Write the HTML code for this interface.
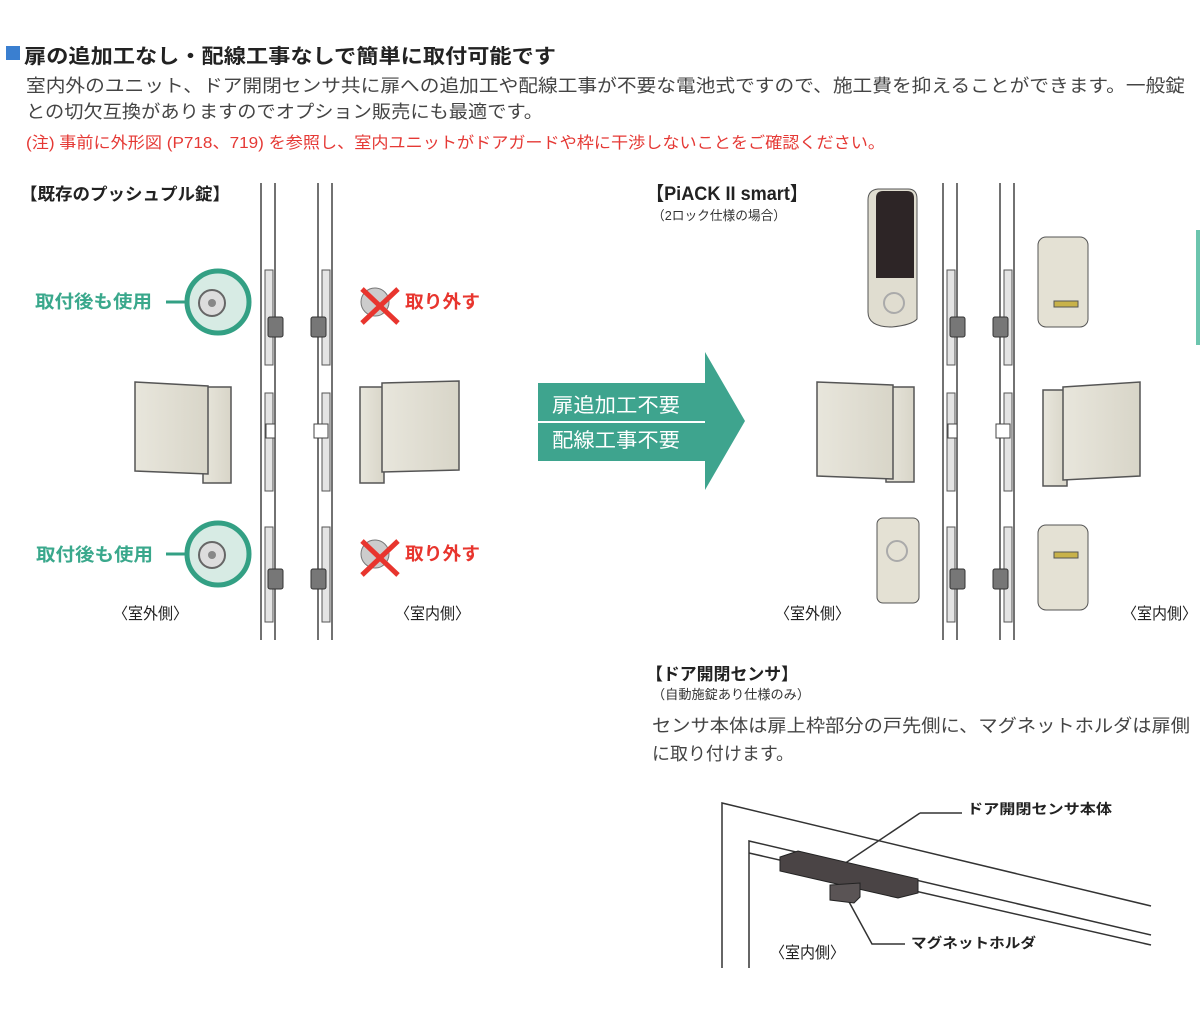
<!DOCTYPE html>
<html><head><meta charset="utf-8"><style>
body{margin:0;background:#fff;width:1200px;height:1013px;overflow:hidden;font-family:"Liberation Sans","Noto Sans CJK JP",sans-serif}
svg{position:absolute;left:0;top:0}
text{font-family:"Liberation Sans","Noto Sans CJK JP",sans-serif}
</style></head><body>
<svg width="1200" height="1013" viewBox="0 0 1200 1013">
<defs>
<linearGradient id="hg" x1="0" x2="1"><stop offset="0" stop-color="#e8e6dc"/><stop offset="1" stop-color="#d8d5c8"/></linearGradient>
</defs>
<rect x="6" y="46" width="14" height="14" fill="#3a7fd0"/>
<text x="24" y="63" font-size="20" fill="#222" font-weight="bold" textLength="532" lengthAdjust="spacingAndGlyphs">扉の追加工なし・配線工事なしで簡単に取付可能です</text>
<text x="26" y="92" font-size="18" fill="#444" textLength="1159" lengthAdjust="spacingAndGlyphs">室内外のユニット、ドア開閉センサ共に扉への追加工や配線工事が不要な電池式ですので、施工費を抑えることができます。一般錠</text>
<text x="26" y="118" font-size="18" fill="#444" textLength="517" lengthAdjust="spacingAndGlyphs">との切欠互換がありますのでオプション販売にも最適です。</text>
<text x="26" y="148" font-size="16" fill="#e53935" textLength="859" lengthAdjust="spacingAndGlyphs">(注) 事前に外形図 (P718、719) を参照し、室内ユニットがドアガードや枠に干渉しないことをご確認ください。</text>

<text x="20" y="200" font-size="17" fill="#222" font-weight="bold" textLength="210" lengthAdjust="spacingAndGlyphs">【既存のプッシュプル錠】</text>
<text x="646" y="200" font-size="19" fill="#222" font-weight="bold" textLength="162" lengthAdjust="spacingAndGlyphs">【PiACK II smart】</text>
<text x="652" y="220" font-size="13" fill="#333" textLength="134" lengthAdjust="spacingAndGlyphs">（2ロック仕様の場合）</text>

<g stroke="#444" stroke-width="1.5" fill="none">
<line x1="261" y1="183" x2="261" y2="640"/><line x1="275" y1="183" x2="275" y2="640"/>
<line x1="318" y1="183" x2="318" y2="640"/><line x1="332" y1="183" x2="332" y2="640"/>
<line x1="943" y1="183" x2="943" y2="640"/><line x1="957" y1="183" x2="957" y2="640"/>
<line x1="1000" y1="183" x2="1000" y2="640"/><line x1="1014" y1="183" x2="1014" y2="640"/>
</g>
<g fill="#e4e4e4" stroke="#555">
<rect x="265" y="270" width="8" height="95"/><rect x="322" y="270" width="8" height="95"/>
<rect x="265" y="393" width="8" height="98"/><rect x="322" y="393" width="8" height="98"/>
<rect x="265" y="527" width="8" height="95"/><rect x="322" y="527" width="8" height="95"/>
<rect x="947" y="270" width="8" height="95"/><rect x="1004" y="270" width="8" height="95"/>
<rect x="947" y="393" width="8" height="98"/><rect x="1004" y="393" width="8" height="98"/>
<rect x="947" y="527" width="8" height="95"/><rect x="1004" y="527" width="8" height="95"/>
</g>
<g fill="#777" stroke="#333">
<rect x="268" y="317" width="15" height="20" rx="2"/><rect x="311" y="317" width="15" height="20" rx="2"/>
<rect x="268" y="569" width="15" height="20" rx="2"/><rect x="311" y="569" width="15" height="20" rx="2"/>
<rect x="950" y="317" width="15" height="20" rx="2"/><rect x="993" y="317" width="15" height="20" rx="2"/>
<rect x="950" y="569" width="15" height="20" rx="2"/><rect x="993" y="569" width="15" height="20" rx="2"/>
</g>
<g fill="#fff" stroke="#444"><rect x="266" y="424" width="9" height="14"/><rect x="314" y="424" width="14" height="14"/><rect x="948" y="424" width="9" height="14"/><rect x="996" y="424" width="14" height="14"/></g>

<g fill="url(#hg)" stroke="#555" stroke-width="1.5">
<path d="M203 387 h28 v96 h-28z"/><path d="M135 382 l73 4 v88 l-73 -3z"/>
<path d="M360 387 h24 v96 h-24z"/><path d="M382 383 l77 -2 v89 l-77 2z"/>
<path d="M886 387 h28 v95 h-28z"/><path d="M817 382 l76 3 v94 l-76 -3z"/>
<path d="M1043 390 h24 v96 h-24z"/><path d="M1063 387 l77 -5 v94 l-77 4z"/>
</g>
<g>
<circle cx="218" cy="302" r="31" fill="#d7ebe4" stroke="#33a084" stroke-width="5"/>
<circle cx="212" cy="303" r="13" fill="#ddd" stroke="#666" stroke-width="2"/><circle cx="212" cy="303" r="4" fill="#888"/>
<line x1="166" y1="302" x2="186" y2="302" stroke="#33a084" stroke-width="3"/>
<circle cx="218" cy="554" r="31" fill="#d7ebe4" stroke="#33a084" stroke-width="5"/>
<circle cx="212" cy="555" r="13" fill="#ddd" stroke="#666" stroke-width="2"/><circle cx="212" cy="555" r="4" fill="#888"/>
<line x1="166" y1="554" x2="186" y2="554" stroke="#33a084" stroke-width="3"/>
</g>
<text x="35" y="308" font-size="18" font-weight="bold" fill="#3aa88c" textLength="117" lengthAdjust="spacingAndGlyphs">取付後も使用</text>
<text x="36" y="561" font-size="18" font-weight="bold" fill="#3aa88c" textLength="117" lengthAdjust="spacingAndGlyphs">取付後も使用</text>
<g>
<circle cx="375" cy="302" r="14" fill="#ccc" stroke="#777"/>
<path d="M362 289 L398 323 M398 289 L362 323" stroke="#e8352e" stroke-width="5"/>
<circle cx="375" cy="554" r="14" fill="#ccc" stroke="#777"/>
<path d="M362 541 L398 575 M398 541 L362 575" stroke="#e8352e" stroke-width="5"/>
</g>
<text x="405" y="308" font-size="18" font-weight="bold" fill="#e8352e" textLength="75" lengthAdjust="spacingAndGlyphs">取り外す</text>
<text x="405" y="560" font-size="18" font-weight="bold" fill="#e8352e" textLength="75" lengthAdjust="spacingAndGlyphs">取り外す</text>
<text x="113" y="619" font-size="16" fill="#222" textLength="75" lengthAdjust="spacingAndGlyphs">〈室外側〉</text>
<text x="395" y="619" font-size="16" fill="#222" textLength="75" lengthAdjust="spacingAndGlyphs">〈室内側〉</text>
<text x="775" y="619" font-size="16" fill="#222" textLength="75" lengthAdjust="spacingAndGlyphs">〈室外側〉</text>
<text x="1122" y="619" font-size="16" fill="#222" textLength="75" lengthAdjust="spacingAndGlyphs">〈室内側〉</text>

<path d="M538 383 H705 V352 L745 421 L705 490 V461 H538z" fill="#3ea48e"/>
<line x1="538" y1="422" x2="705" y2="422" stroke="#fff" stroke-width="2"/>
<text x="552" y="412" font-size="20" fill="#fff" textLength="128" lengthAdjust="spacingAndGlyphs">扉追加工不要</text>
<text x="552" y="447" font-size="20" fill="#fff" textLength="128" lengthAdjust="spacingAndGlyphs">配線工事不要</text>

<path d="M868 200 q0 -10 10 -11 h30 q9 0 9 10 v120 q-5 6 -25 8 q-24 0 -24 -15z" fill="#e0ddd0" stroke="#555"/>
<path d="M876 198 q0 -7 7 -7 h24 q7 0 7 7 v80 h-38z" fill="#2d2526"/>
<circle cx="894" cy="303" r="10" fill="none" stroke="#aaa" stroke-width="2"/>
<rect x="1038" y="237" width="50" height="90" rx="8" fill="#e4e1d4" stroke="#555"/>
<path d="M1054 307 h24 v-6 h-24z" fill="#c8b24a" stroke="#555"/>
<rect x="877" y="518" width="42" height="85" rx="6" fill="#e4e1d4" stroke="#555"/>
<circle cx="897" cy="551" r="10" fill="none" stroke="#aaa" stroke-width="2"/>
<rect x="1038" y="525" width="50" height="85" rx="8" fill="#e4e1d4" stroke="#555"/>
<path d="M1054 558 h24 v-6 h-24z" fill="#c8b24a" stroke="#555"/>
<rect x="1196" y="230" width="4" height="115" fill="#6cc5ae"/>

<text x="646" y="680" font-size="17" fill="#222" font-weight="bold" textLength="152" lengthAdjust="spacingAndGlyphs">【ドア開閉センサ】</text>
<text x="652" y="699" font-size="13" fill="#333" textLength="158" lengthAdjust="spacingAndGlyphs">（自動施錠あり仕様のみ）</text>
<text x="652" y="732" font-size="18" fill="#444" textLength="538" lengthAdjust="spacingAndGlyphs">センサ本体は扉上枠部分の戸先側に、マグネットホルダは扉側</text>
<text x="652" y="760" font-size="18" fill="#444" textLength="142" lengthAdjust="spacingAndGlyphs">に取り付けます。</text>

<g stroke="#333" stroke-width="1.5" fill="none">
<path d="M722 968 V803 L1151 906"/>
<path d="M749 968 V841 L1151 935"/>
<path d="M749 853 L1151 945"/>
<path d="M920 813 H962 M920 813 L838 868"/>
<path d="M848 900 L872 944 H905"/>
</g>
<path d="M780 857 l18 -6 l120 28 v14 l-20 5 l-118 -27z" fill="#4a4445" stroke="#222"/>
<path d="M830 885 l30 -2 v14 l-6 6 l-24 -3z" fill="#5a5455" stroke="#222"/>
<text x="967" y="814" font-size="14" font-weight="bold" fill="#222" textLength="145" lengthAdjust="spacingAndGlyphs">ドア開閉センサ本体</text>
<text x="911" y="948" font-size="14" font-weight="bold" fill="#222" textLength="125" lengthAdjust="spacingAndGlyphs">マグネットホルダ</text>
<text x="770" y="958" font-size="16" fill="#222" textLength="75" lengthAdjust="spacingAndGlyphs">〈室内側〉</text>
</svg>
</body></html>
